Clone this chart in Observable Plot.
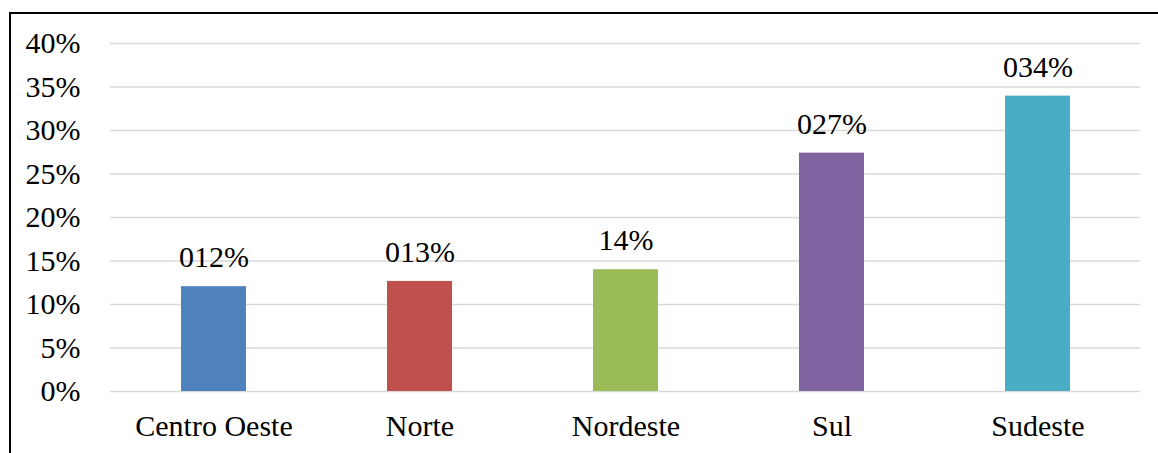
<!DOCTYPE html>
<html>
<head>
<meta charset="utf-8">
<script src="https://cdn.jsdelivr.net/npm/d3@7"></script>
<script src="https://cdn.jsdelivr.net/npm/@observablehq/plot@0.6"></script>
<style>
  html, body { margin: 0; padding: 0; background: #fff; overflow: hidden; }
  #wrap { position: relative; width: 1158px; height: 453px; overflow: hidden; }
  #frame { position: absolute; left: 9px; top: 12px; width: 1200px; height: 500px; border: 2px solid #000; box-sizing: border-box; pointer-events: none; }
  #chart svg, #chart svg text { font-family: "Liberation Serif", "Times New Roman", serif !important; }
</style>
</head>
<body>
<div id="wrap"><div id="chart"></div><div id="frame"></div></div>
<script>
const regions = ["Centro Oeste", "Norte", "Nordeste", "Sul", "Sudeste"];
const shares = [0.1205, 0.1265, 0.140, 0.274, 0.3395];
const valueLabels = ["012%", "013%", "14%", "027%", "034%"];
const colors = ["#4f81bd", "#c0504d", "#9bbb59", "#8064a2", "#4bacc6"];
const yTicks = [0, 0.05, 0.10, 0.15, 0.20, 0.25, 0.30, 0.35, 0.40];

const data = regions.map((r, i) => ({region: r, share: shares[i], label: valueLabels[i]}));

const chart = Plot.plot({
  width: 1158,
  height: 453,
  marginLeft: 110,
  marginRight: 18,
  marginTop: 43,
  marginBottom: 62,
  style: {fontFamily: "Liberation Serif", fontSize: "30px", color: "#000", background: "transparent"},
  x: {domain: regions, paddingInner: 0.6865, paddingOuter: 0.343, label: null},
  y: {domain: [0, 0.4], label: null},
  color: {domain: regions, range: colors},
  marks: [
    Plot.ruleY(yTicks, {stroke: "#d9d9d9", strokeWidth: 1.5}),
    Plot.barY(data, {x: "region", y: "share", fill: "region"}),
    Plot.text(data, {x: "region", y: "share", text: "label", dy: -29, fill: "#000", fontSize: 30}),
    Plot.axisY({ticks: yTicks, tickSize: 0, tickPadding: 30, tickFormat: d => Math.round(d * 100) + "%", fill: "#000", fontSize: 30}),
    Plot.axisX({tickSize: 0, tickPadding: 23, fill: "#000", fontSize: 30})
  ]
});
document.getElementById("chart").appendChild(chart);
</script>
</body>
</html>
